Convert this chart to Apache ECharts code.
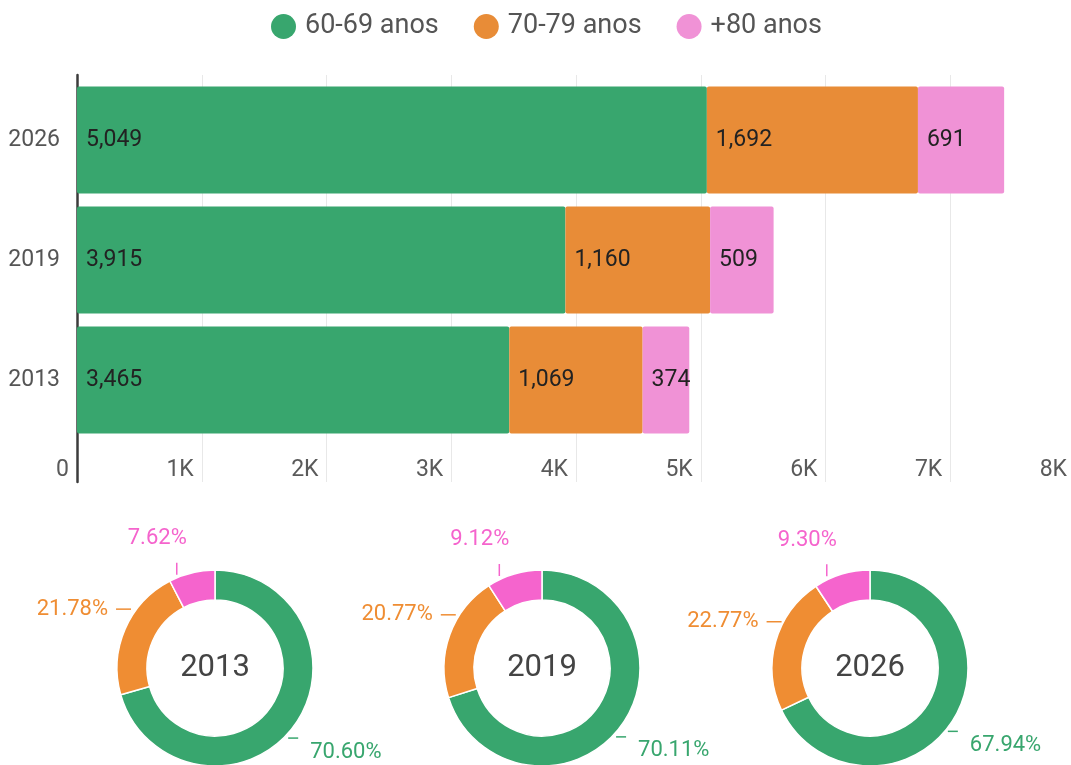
<!DOCTYPE html>
<html><head><meta charset="utf-8">
<script src="https://cdn.jsdelivr.net/npm/echarts@6/dist/echarts.min.js"></script>
<style>html,body{margin:0;padding:0;background:#fff}#c{width:1071px;height:765px}</style>
</head><body><div id="c"></div>
<script>
// ---- data ----
const years = ['2013', '2019', '2026'];
const seriesNames = ['60-69 anos', '70-79 anos', '+80 anos'];
const v6069 = [3465, 3915, 5049];
const v7079 = [1069, 1160, 1692];
const v80 = [374, 509, 691];
const xTickLabels = ['0', '1K', '2K', '3K', '4K', '5K', '6K', '7K', '8K'];

// ---- styles ----
const barColors = ['#38a66e', '#e88c37', '#f092d6'];
const pieColors = ['#38a66e', '#ef8d33', '#f564cd'];
const pieCenters = [[215, 668], [542, 668], [870, 668]];
const seriesValues = [v6069, v7079, v80];

const chart = echarts.init(document.getElementById('c'), null, {renderer: 'canvas'});

const barSeries = seriesNames.map((n, k) => ({
  name: n,
  type: 'bar',
  stack: 'total',
  xAxisIndex: 1,
  yAxisIndex: 1,
  barWidth: 107,
  data: seriesValues[k],
  itemStyle: {color: barColors[k], borderRadius: 2},
  label: {
    show: true, position: 'insideLeft', distance: 9,
    fontSize: 23, color: '#222', fontFamily: 'Roboto',
    formatter: p => Number(p.value).toLocaleString('en-US')
  },
  emphasis: {disabled: true}
}));

// label placement relative to the library-computed label line start point
function pieLabelLayout(params) {
  const pts = params.labelLinePoints;
  if (!pts) return {};
  const x0 = pts[0][0], y0 = pts[0][1];
  const i = params.dataIndex;
  if (i === 2) {
    return {
      x: x0 - 5, y: y0 - 23, align: 'right', verticalAlign: 'bottom',
      labelLinePoints: [[x0 - 15, y0 + 2], [x0 - 15, y0 - 10]]
    };
  } else if (i === 1) {
    return {
      x: x0 - 17, y: y0 - 20, align: 'right', verticalAlign: 'middle',
      labelLinePoints: [[x0 + 6, y0 - 20], [x0 - 9, y0 - 20]]
    };
  }
  return {
    x: x0 + 17, y: y0 + 25, align: 'left', verticalAlign: 'middle',
    labelLinePoints: [[x0 - 5, y0 + 11], [x0 + 5, y0 + 11]]
  };
}

const pieSeries = years.map((y, i) => {
  const total = seriesValues.reduce((s, arr) => s + arr[i], 0);
  return {
    name: y,
    type: 'pie',
    center: pieCenters[i],
    radius: [68, 98],
    startAngle: 90,
    clockwise: true,
    itemStyle: {borderColor: '#fff', borderWidth: 1.5},
    label: {
      show: true, position: 'outside', fontSize: 22, fontFamily: 'Roboto',
      formatter: p => (p.value / total * 100).toFixed(2) + '%'
    },
    labelLine: {show: true, length: 8, length2: 10, lineStyle: {width: 1.5}},
    labelLayout: pieLabelLayout,
    emphasis: {disabled: true},
    data: seriesNames.map((n, k) => ({
      name: n,
      value: seriesValues[k][i],
      itemStyle: {color: pieColors[k]},
      label: {color: pieColors[k]},
      labelLine: {lineStyle: {color: pieColors[k]}}
    }))
  };
});

const option = {
  animation: false,
  textStyle: {fontFamily: 'Roboto'},
  legend: {
    data: seriesNames,
    top: 8,
    left: 266,
    icon: 'circle',
    itemWidth: 25,
    itemHeight: 25,
    itemGap: 35,
    textStyle: {fontSize: 27, color: '#555', padding: [0, 0, 0, 4]}
  },
  grid: [
    {left: 77, top: 75, width: 998, height: 407, outerBoundsMode: 'none', containLabel: false},
    {left: 77, top: 80, width: 998, height: 360, outerBoundsMode: 'none', containLabel: false}
  ],
  xAxis: [
    {
      gridIndex: 0, type: 'value', min: 0, max: 8000, interval: 1000,
      axisLine: {show: false}, axisTick: {show: false},
      splitLine: {show: true, lineStyle: {color: '#e8e8e8', width: 1}},
      axisLabel: {
        inside: true, align: 'right', padding: [0, 8, 0, 0], margin: 0,
        fontSize: 23, color: '#5a5a5a', hideOverlap: false,
        formatter: v => xTickLabels[Math.round(v / 1000)]
      }
    },
    {gridIndex: 1, type: 'value', min: 0, max: 8000, interval: 1000, show: false}
  ],
  yAxis: [
    {
      gridIndex: 0, type: 'category', data: years,
      axisLine: {show: true, lineStyle: {color: '#3c3c3c', width: 2.5}},
      axisTick: {show: false}, axisLabel: {show: false}, splitLine: {show: false}
    },
    {
      gridIndex: 1, type: 'category', data: years,
      axisLine: {show: false}, axisTick: {show: false},
      axisLabel: {fontSize: 23, color: '#555', margin: 17}
    }
  ],
  graphic: years.map((y, i) => ({
    type: 'text', x: pieCenters[i][0], y: pieCenters[i][1],
    style: {text: y, align: 'center', verticalAlign: 'middle', fontSize: 31, fill: '#444', fontFamily: 'Roboto'}
  })),
  series: barSeries.concat(pieSeries)
};
chart.setOption(option);
</script></body></html>
